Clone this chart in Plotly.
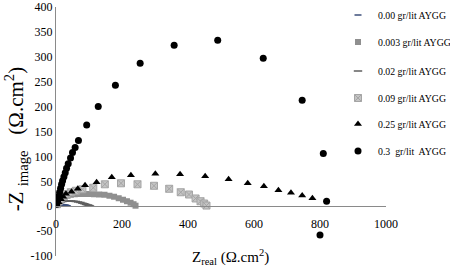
import plotly.graph_objects as go

# ---- data ----
x_000 = [1, 3, 6, 9, 13, 17, 21, 25, 29, 32, 35]
y_000 = [0.5, 1.5, 2.3, 2.8, 3.1, 3.2, 3.0, 2.6, 2.0, 1.2, 0.4]

x_0003 = [3, 8, 14, 20, 27, 35, 45, 57, 70, 84, 99, 115, 131, 147, 162, 176, 190, 203, 215, 226, 235, 241]
y_0003 = [3, 8, 12, 16, 19, 21, 23, 24, 24.5, 24.5, 24.5, 24, 23.5, 23, 21, 19, 16, 13, 10, 7, 4, 1]

x_002 = [1, 3, 6, 10, 15, 20, 26, 32, 39, 46, 53, 60, 67, 74, 80, 86, 91, 96, 100, 103]
y_002 = [1.5, 3.5, 5.5, 7, 8.5, 9.5, 10, 10.5, 10.5, 10.5, 10, 9.5, 8.5, 7.5, 6, 5, 3.5, 2.5, 1.5, 0.5]

x_009 = [3, 8, 14, 22, 32, 45, 60, 80, 113, 148, 197, 247, 297, 343, 378, 403, 423, 438, 449, 456]
y_009 = [4, 10, 15, 20, 24, 28, 31, 34, 37, 44, 46, 44, 41, 35, 28, 23.5, 15.5, 10, 5.4, 1.3]

x_025 = [3, 8, 15, 22, 30, 47, 66, 88, 123, 169, 227, 301, 376, 452, 523, 581, 630, 674, 712, 746, 777]
y_025 = [3, 8, 14, 19, 25, 29, 35, 42, 48, 58, 62, 65, 64, 60, 54, 46, 40, 32, 27, 21.5, 16]

x_03 = [2, 5, 8, 11, 14, 17, 20, 24, 28, 32, 37, 44, 50, 58, 68, 93, 128, 180, 255, 358, 490, 628, 746, 810, 820, 800]
y_03 = [4, 12, 20, 28, 36, 44, 51, 59, 67, 76, 85, 97, 108, 118, 132, 163, 200, 243, 287, 323, 333, 297, 213, 106, 10, -58]

series_names = ["0.00 gr/lit AYGG", "0.003 gr/lit AYGG", "0.02 gr/lit AYGG",
                "0.09 gr/lit AYGG", "0.25 gr/lit AYGG", "0.3\u00a0 gr/lit\u00a0 AYGG"]

x_ticks = [0, 200, 400, 600, 800, 1000]
x_ticktext = ["0", "200", "400", "600", "800", "1000"]
y_ticks = [-100, -50, 0, 50, 100, 150, 200, 250, 300, 350, 400]
y_ticktext = ["-100", "-50", "0", "50", "100", "150", "200", "250", "300", "350", "400"]

FONT = "Liberation Serif"
W, H = 450, 274

fig = go.Figure()
styles = [
    dict(symbol="line-ew", size=5, line=dict(color="#3d4f7a", width=1.5), color="#3d4f7a"),
    dict(symbol="square", size=6, color="#8f8f8f"),
    dict(symbol="line-ew", size=6, line=dict(color="#5f5f5f", width=1.5), color="#5f5f5f"),
    dict(symbol="square-x", size=7, color="#c4c4c4", line=dict(color="#a5a5a5", width=1)),
    dict(symbol="triangle-up", size=7, color="black"),
    dict(symbol="circle", size=7, color="black"),
]
xs_all = [x_000, x_0003, x_002, x_009, x_025, x_03]
ys_all = [y_000, y_0003, y_002, y_009, y_025, y_03]
legend_rows = [15, 42, 71, 98, 124, 151]   # pixel centre of each legend row

legend_layout = {}
for i in range(6):
    lname = "legend" if i == 0 else f"legend{i + 1}"
    fig.add_trace(go.Scatter(x=xs_all[i], y=ys_all[i], mode="markers", marker=styles[i],
                             name=series_names[i], legend=lname))
    legend_layout[lname] = dict(
        xref="container", yref="container", x=338 / W, xanchor="left",
        y=1 - legend_rows[i] / H, yanchor="middle",
        font=dict(family=FONT, size=9.8, color="black"),
        itemwidth=30, bgcolor="rgba(0,0,0,0)", borderwidth=0)

fig.update_layout(
    width=W, height=H,
    margin=dict(l=56, r=64, t=7, b=18, autoexpand=False),
    paper_bgcolor="white", plot_bgcolor="white",
    font=dict(family=FONT, size=12, color="black"),
    showlegend=True,
    xaxis=dict(range=[0, 1000], tickvals=x_ticks, ticktext=x_ticktext,
               anchor="free", position=0.2, showline=True, linecolor="#8a8a8a",
               linewidth=1, showgrid=False, zeroline=False, ticks="",
               ticklabelstandoff=6,
               tickfont=dict(family=FONT, size=12)),
    yaxis=dict(range=[-100, 400], tickvals=y_ticks, ticktext=y_ticktext,
               showline=True, linecolor="#8a8a8a", linewidth=1,
               showgrid=False, zeroline=False, ticks="",
               tickfont=dict(family=FONT, size=12)),
    **legend_layout,
)

fig.add_annotation(xref="paper", yref="paper", x=0.53, y=-0.005, yanchor="middle",
                   showarrow=False, text="Z<sub>real</sub> (Ω.cm<sup>2</sup>)",
                   font=dict(family=FONT, size=15))
fig.add_annotation(xref="paper", yref="paper", x=-0.12, y=0.47, xanchor="center",
                   textangle=-90, showarrow=False,
                   text="-Z\u00a0<sub>image</sub>\u00a0\u00a0 (Ω.cm<sup>2</sup>)",
                   font=dict(family=FONT, size=21))

fig.write_html("out.html", config={"displayModeBar": False},
               post_script="document.body.style.margin='0px';")
